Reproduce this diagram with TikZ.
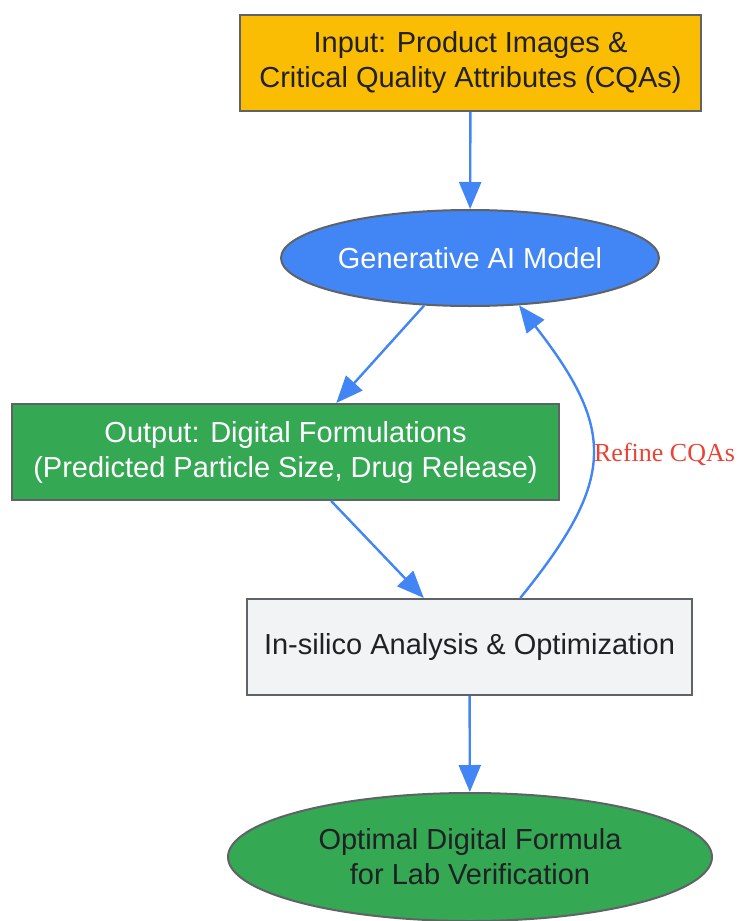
\documentclass[tikz,border=0pt]{standalone}
\usepackage{fontspec}
\setmainfont{Liberation Sans}
\newfontfamily\refinefont{Liberation Serif}
\usetikzlibrary{shapes.geometric,arrows.meta}

\definecolor{gyellow}{HTML}{FBBC04}
\definecolor{gblue}{HTML}{4285F4}
\definecolor{ggreen}{HTML}{34A853}
\definecolor{ggrey}{HTML}{F1F3F4}
\definecolor{gborder}{HTML}{5F6368}
\definecolor{gtext}{HTML}{202124}
\definecolor{gred}{HTML}{EA4335}

\begin{document}
\begin{tikzpicture}[x=1pt, y=-1pt,
    box/.style = {draw=gborder, line width=2pt, rectangle, inner sep=0pt,
                  minimum height=96pt, align=center, text=gtext,
                  font=\fontsize{29}{35}\selectfont},
    oval/.style = {box, ellipse},
    flow/.style = {draw=gblue, line width=2.4pt, -{Triangle[length=27pt, width=22pt]}}]

    \useasboundingbox (0,0) rectangle (739,921);

    \node[box, fill=gyellow, minimum width=461pt] (input) at (470.5, 63)
        {Input: Product Images \&\\Critical Quality Attributes (CQAs)};
    \node[oval, fill=gblue, text=white, minimum width=378pt] (model) at (470, 258)
        {Generative AI Model};
    \node[box, fill=ggreen, text=white, minimum width=547pt] (output) at (285.5, 452)
        {Output: Digital Formulations\\(Predicted Particle Size, Drug Release)};
    \node[box, fill=ggrey, minimum width=445pt] (silico) at (469.5, 647)
        {In-silico Analysis \& Optimization};
    \node[oval, fill=ggreen, minimum width=484pt, minimum height=128pt] (optimal) at (470, 857)
        {Optimal Digital Formula\\for Lab Verification};

    \draw[flow] (input) -- (model);
    \draw[flow] (model.226) -- (output.44);
    \draw[flow] (output.-47) -- (silico.133);
    \draw[flow] (silico) -- (optimal);
    \draw[flow] (silico.44) .. controls (616, 480) and (616, 430) .. node[pos=0.5, right, inner sep=1pt, text=gred, font=\refinefont\fontsize{26}{30}\selectfont] {Refine CQAs} (model.-44);

\end{tikzpicture}
\end{document}
